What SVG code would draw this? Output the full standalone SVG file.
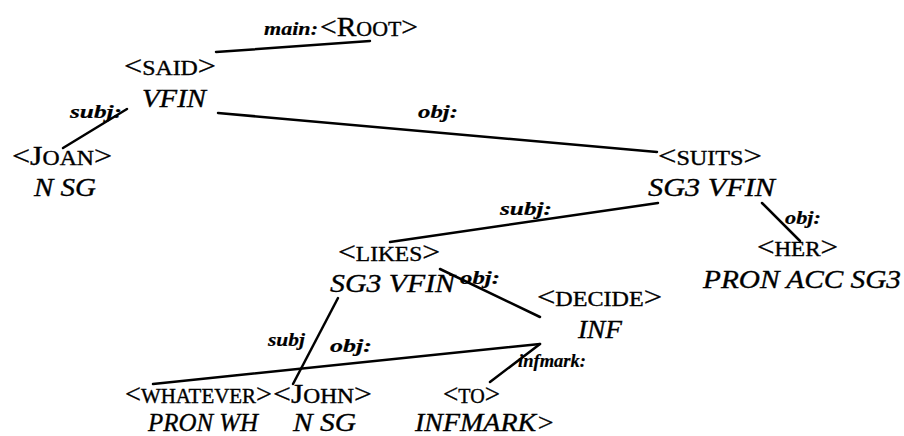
<svg xmlns="http://www.w3.org/2000/svg" width="904" height="436" viewBox="0 0 904 436">
<style>
text { font-family: "Liberation Serif", "Times New Roman", serif; fill: #000; stroke: #000; stroke-width: 0.35; }
.r { font-size: 27px; }
.s { font-size: 20px; }
.it { font-style: italic; font-size: 26px; }
.lb { font-style: italic; font-weight: bold; font-size: 19px; stroke-width: 0.2; }
.e { stroke: #000; stroke-width: 2.5; stroke-linecap: round; fill: none; }
</style>
<rect width="904" height="436" fill="#fff"/>
<g id="edges">
<line class="e" x1="216" y1="52" x2="370" y2="41"/>
<line class="e" x1="63" y1="148" x2="127" y2="109"/>
<line class="e" x1="218" y1="113" x2="657" y2="152"/>
<line class="e" x1="658" y1="203" x2="390" y2="242"/>
<line class="e" x1="762" y1="203" x2="800" y2="241"/>
<line class="e" x1="440" y1="269" x2="540" y2="317"/>
<line class="e" x1="338" y1="298" x2="293" y2="384"/>
<line class="e" x1="153" y1="384" x2="540" y2="344"/>
<line class="e" x1="490" y1="382" x2="540" y2="344"/>
</g>
<g id="labels">
<text class="lb" x="264" y="35" textLength="54" lengthAdjust="spacingAndGlyphs">main:</text>
<text class="lb" x="70" y="118" textLength="52" lengthAdjust="spacingAndGlyphs">subj:</text>
<text class="lb" x="418" y="118" textLength="40" lengthAdjust="spacingAndGlyphs">obj:</text>
<text class="lb" x="500" y="215" textLength="52" lengthAdjust="spacingAndGlyphs">subj:</text>
<text class="lb" x="785" y="224" textLength="36" lengthAdjust="spacingAndGlyphs">obj:</text>
<text class="lb" x="460" y="284" textLength="40" lengthAdjust="spacingAndGlyphs">obj:</text>
<text class="lb" x="268" y="346" textLength="37" lengthAdjust="spacingAndGlyphs">subj</text>
<text class="lb" x="330" y="352" textLength="42" lengthAdjust="spacingAndGlyphs">obj:</text>
<text class="lb" x="518" y="367" textLength="68" lengthAdjust="spacingAndGlyphs">infmark:</text>
</g>
<g id="root">
<text class="r" x="320" y="36" textLength="98" lengthAdjust="spacingAndGlyphs">&lt;R<tspan class="s">OOT</tspan>&gt;</text>
</g>
<g id="said">
<text class="r" x="124" y="75" textLength="92" lengthAdjust="spacingAndGlyphs">&lt;<tspan class="s">SAID</tspan>&gt;</text>
<text class="it" x="142" y="107" textLength="64" lengthAdjust="spacingAndGlyphs">VFIN</text>
</g>
<g id="joan">
<text class="r" x="12" y="165" textLength="100" lengthAdjust="spacingAndGlyphs">&lt;J<tspan class="s">OAN</tspan>&gt;</text>
<text class="it" x="34" y="196" textLength="62" lengthAdjust="spacingAndGlyphs">N SG</text>
</g>
<g id="suits">
<text class="r" x="658" y="165" textLength="104" lengthAdjust="spacingAndGlyphs">&lt;<tspan class="s">SUITS</tspan>&gt;</text>
<text class="it" x="648" y="196" textLength="127" lengthAdjust="spacingAndGlyphs">SG3 VFIN</text>
</g>
<g id="her">
<text class="r" x="757" y="256" textLength="81" lengthAdjust="spacingAndGlyphs">&lt;<tspan class="s">HER</tspan>&gt;</text>
<text class="it" x="703" y="288" textLength="198" lengthAdjust="spacingAndGlyphs">PRON ACC SG3</text>
</g>
<g id="likes">
<text class="r" x="338" y="261" textLength="102" lengthAdjust="spacingAndGlyphs">&lt;<tspan class="s">LIKES</tspan>&gt;</text>
<text class="it" x="330" y="292" textLength="125" lengthAdjust="spacingAndGlyphs">SG3 VFIN</text>
</g>
<g id="decide">
<text class="r" x="537" y="306" textLength="125" lengthAdjust="spacingAndGlyphs">&lt;<tspan class="s">DECIDE</tspan>&gt;</text>
<text class="it" x="578" y="338" textLength="44" lengthAdjust="spacingAndGlyphs">INF</text>
</g>
<g id="whatever">
<text class="r" x="125" y="403" textLength="147" lengthAdjust="spacingAndGlyphs">&lt;<tspan class="s">WHATEVER</tspan>&gt;</text>
<text class="it" x="148" y="431" textLength="110" lengthAdjust="spacingAndGlyphs">PRON WH</text>
</g>
<g id="john">
<text class="r" x="273" y="403" textLength="99" lengthAdjust="spacingAndGlyphs">&lt;J<tspan class="s">OHN</tspan>&gt;</text>
<text class="it" x="293" y="431" textLength="63" lengthAdjust="spacingAndGlyphs">N SG</text>
</g>
<g id="to">
<text class="r" x="443" y="403" textLength="57" lengthAdjust="spacingAndGlyphs">&lt;<tspan class="s">TO</tspan>&gt;</text>
<text class="it" x="415" y="431" textLength="140" lengthAdjust="spacingAndGlyphs">INFMARK&gt;</text>
</g>
</svg>
